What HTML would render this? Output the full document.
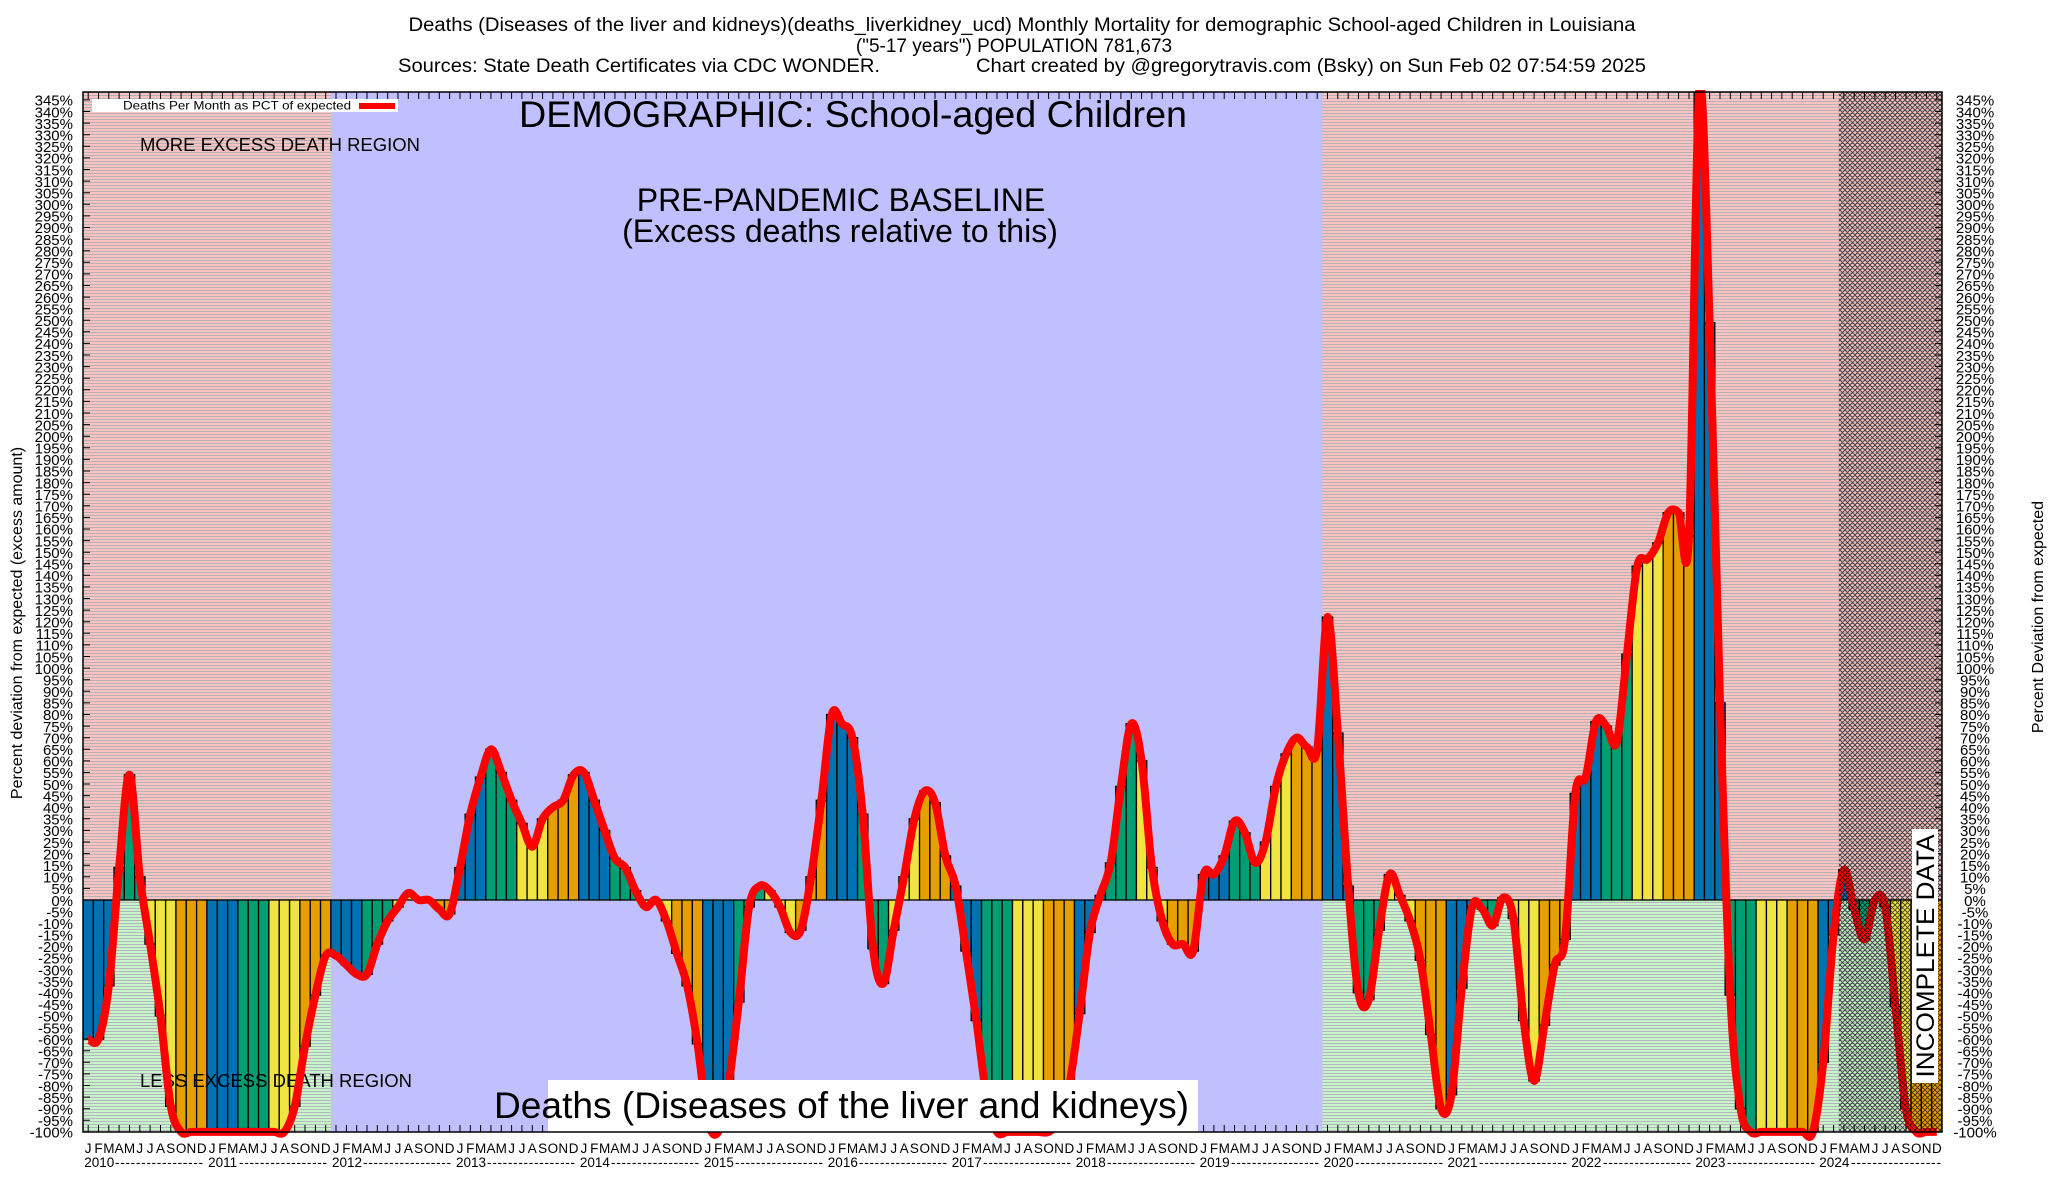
<!DOCTYPE html>
<html><head><meta charset="utf-8">
<style>
html,body{margin:0;padding:0;background:#fff;}
svg{display:block;}
text{font-family:"Liberation Sans",Arial,sans-serif;fill:#000;}
</style></head><body>
<svg id="c" xmlns="http://www.w3.org/2000/svg" width="2048" height="1200" viewBox="0 0 2048 1200">
<defs>
<pattern id="pk" patternUnits="userSpaceOnUse" width="8" height="3"><rect width="8" height="3" fill="#ffc2c2"/><rect y="2" width="8" height="1" fill="#b4b4b4"/></pattern>
<pattern id="gr" patternUnits="userSpaceOnUse" width="8" height="3"><rect width="8" height="3" fill="#c6f6c6"/><rect y="2" width="8" height="1" fill="#b6b4c2"/></pattern>
<pattern id="hx" patternUnits="userSpaceOnUse" width="5" height="5"><path d="M0,0L5,5M5,0L0,5M-1,4L1,6M4,-1L6,1M-1,1L1,-1M4,6L6,4" stroke="#000" stroke-width="0.9" opacity="0.72"/></pattern>
<clipPath id="pc"><rect x="83" y="92" width="1859" height="1040"/></clipPath>
<clipPath id="lc"><rect x="0" y="90" width="2048" height="1110"/></clipPath>
</defs>

<!-- titles -->
<text x="1022" y="31" font-size="19" text-anchor="middle" textLength="1227" lengthAdjust="spacingAndGlyphs">Deaths (Diseases of the liver and kidneys)(deaths_liverkidney_ucd) Monthly Mortality for demographic School-aged Children in Louisiana</text>
<text x="1014" y="52" font-size="19" text-anchor="middle">("5-17 years") POPULATION 781,673</text>
<text x="398" y="72" font-size="19" textLength="482" lengthAdjust="spacingAndGlyphs">Sources: State Death Certificates via CDC WONDER.</text>
<text x="976" y="72" font-size="19" textLength="670" lengthAdjust="spacingAndGlyphs">Chart created by @gregorytravis.com (Bsky) on Sun Feb 02 07:54:59 2025</text>

<!-- backgrounds -->
<rect x="83" y="92" width="248" height="808" fill="url(#pk)"/>
<rect x="83" y="900" width="248" height="232" fill="url(#gr)"/>
<rect x="331" y="92" width="991.5" height="1040" fill="#c0c0ff"/>
<rect x="1322.5" y="92" width="619.5" height="808" fill="url(#pk)"/>
<rect x="1322.5" y="900" width="619.5" height="232" fill="url(#gr)"/>

<path id="tk" fill="none" stroke="#000" stroke-width="1"/>
<g id="bars" clip-path="url(#pc)"></g>

<text x="140" y="151" font-size="18" textLength="280" lengthAdjust="spacingAndGlyphs">MORE EXCESS DEATH REGION</text>
<text x="140" y="1087" font-size="18" textLength="272" lengthAdjust="spacingAndGlyphs">LESS EXCESS DEATH REGION</text>

<path id="ln" clip-path="url(#lc)" fill="none" stroke="#ff0000" stroke-width="8" stroke-linejoin="round"/>

<rect x="1838.8" y="92" width="103.2" height="1040" fill="url(#hx)"/>

<text x="519" y="127" font-size="37" textLength="668" lengthAdjust="spacingAndGlyphs">DEMOGRAPHIC: School-aged Children</text>
<text x="841" y="211" font-size="32" text-anchor="middle">PRE-PANDEMIC BASELINE</text>
<text x="840" y="242" font-size="32" text-anchor="middle">(Excess deaths relative to this)</text>

<rect x="548" y="1080" width="650" height="52" fill="#fff"/>
<text x="494" y="1118" font-size="37" textLength="695" lengthAdjust="spacingAndGlyphs">Deaths (Diseases of the liver and kidneys)</text>

<rect x="1912" y="829" width="26" height="254" fill="#fff"/>
<text transform="translate(1934,956) rotate(-90)" font-size="25" text-anchor="middle" textLength="243" lengthAdjust="spacingAndGlyphs">INCOMPLETE DATA</text>

<!-- legend -->
<rect x="92" y="99" width="306" height="13" fill="#fff"/>
<text x="123" y="109.5" font-size="12" textLength="228" lengthAdjust="spacingAndGlyphs">Deaths Per Month as PCT of expected</text>
<line x1="359" y1="106" x2="395" y2="106" stroke="#ff0000" stroke-width="6"/>

<!-- border -->
<rect x="83" y="92" width="1859" height="1040" fill="none" stroke="#000" stroke-width="1.5"/>

<!-- axis titles -->
<text transform="translate(22,623) rotate(-90)" font-size="16" text-anchor="middle">Percent deviation from expected (excess amount)</text>
<text transform="translate(2043,617) rotate(-90)" font-size="16" text-anchor="middle">Percent Deviation from expected</text>

<!-- left tick labels -->
<text font-size="15" text-anchor="end"><tspan x="73" y="105.7">345%</tspan><tspan x="73" dy="11.595">340%</tspan><tspan x="73" dy="11.595">335%</tspan><tspan x="73" dy="11.595">330%</tspan><tspan x="73" dy="11.595">325%</tspan><tspan x="73" dy="11.595">320%</tspan><tspan x="73" dy="11.595">315%</tspan><tspan x="73" dy="11.595">310%</tspan><tspan x="73" dy="11.595">305%</tspan><tspan x="73" dy="11.595">300%</tspan><tspan x="73" dy="11.595">295%</tspan><tspan x="73" dy="11.595">290%</tspan><tspan x="73" dy="11.595">285%</tspan><tspan x="73" dy="11.595">280%</tspan><tspan x="73" dy="11.595">275%</tspan><tspan x="73" dy="11.595">270%</tspan><tspan x="73" dy="11.595">265%</tspan><tspan x="73" dy="11.595">260%</tspan><tspan x="73" dy="11.595">255%</tspan><tspan x="73" dy="11.595">250%</tspan><tspan x="73" dy="11.595">245%</tspan><tspan x="73" dy="11.595">240%</tspan><tspan x="73" dy="11.595">235%</tspan><tspan x="73" dy="11.595">230%</tspan><tspan x="73" dy="11.595">225%</tspan><tspan x="73" dy="11.595">220%</tspan><tspan x="73" dy="11.595">215%</tspan><tspan x="73" dy="11.595">210%</tspan><tspan x="73" dy="11.595">205%</tspan><tspan x="73" dy="11.595">200%</tspan><tspan x="73" dy="11.595">195%</tspan><tspan x="73" dy="11.595">190%</tspan><tspan x="73" dy="11.595">185%</tspan><tspan x="73" dy="11.595">180%</tspan><tspan x="73" dy="11.595">175%</tspan><tspan x="73" dy="11.595">170%</tspan><tspan x="73" dy="11.595">165%</tspan><tspan x="73" dy="11.595">160%</tspan><tspan x="73" dy="11.595">155%</tspan><tspan x="73" dy="11.595">150%</tspan><tspan x="73" dy="11.595">145%</tspan><tspan x="73" dy="11.595">140%</tspan><tspan x="73" dy="11.595">135%</tspan><tspan x="73" dy="11.595">130%</tspan><tspan x="73" dy="11.595">125%</tspan><tspan x="73" dy="11.595">120%</tspan><tspan x="73" dy="11.595">115%</tspan><tspan x="73" dy="11.595">110%</tspan><tspan x="73" dy="11.595">105%</tspan><tspan x="73" dy="11.595">100%</tspan><tspan x="73" dy="11.595">95%</tspan><tspan x="73" dy="11.595">90%</tspan><tspan x="73" dy="11.595">85%</tspan><tspan x="73" dy="11.595">80%</tspan><tspan x="73" dy="11.595">75%</tspan><tspan x="73" dy="11.595">70%</tspan><tspan x="73" dy="11.595">65%</tspan><tspan x="73" dy="11.595">60%</tspan><tspan x="73" dy="11.595">55%</tspan><tspan x="73" dy="11.595">50%</tspan><tspan x="73" dy="11.595">45%</tspan><tspan x="73" dy="11.595">40%</tspan><tspan x="73" dy="11.595">35%</tspan><tspan x="73" dy="11.595">30%</tspan><tspan x="73" dy="11.595">25%</tspan><tspan x="73" dy="11.595">20%</tspan><tspan x="73" dy="11.595">15%</tspan><tspan x="73" dy="11.595">10%</tspan><tspan x="73" dy="11.595">5%</tspan><tspan x="73" dy="11.595">0%</tspan><tspan x="73" dy="11.595">-5%</tspan><tspan x="73" dy="11.595">-10%</tspan><tspan x="73" dy="11.595">-15%</tspan><tspan x="73" dy="11.595">-20%</tspan><tspan x="73" dy="11.595">-25%</tspan><tspan x="73" dy="11.595">-30%</tspan><tspan x="73" dy="11.595">-35%</tspan><tspan x="73" dy="11.595">-40%</tspan><tspan x="73" dy="11.595">-45%</tspan><tspan x="73" dy="11.595">-50%</tspan><tspan x="73" dy="11.595">-55%</tspan><tspan x="73" dy="11.595">-60%</tspan><tspan x="73" dy="11.595">-65%</tspan><tspan x="73" dy="11.595">-70%</tspan><tspan x="73" dy="11.595">-75%</tspan><tspan x="73" dy="11.595">-80%</tspan><tspan x="73" dy="11.595">-85%</tspan><tspan x="73" dy="11.595">-90%</tspan><tspan x="73" dy="11.595">-95%</tspan><tspan x="73" dy="11.595">-100%</tspan></text>

<!-- right tick labels -->
<text font-size="15" text-anchor="middle"><tspan x="1975" y="105.7">345%</tspan><tspan x="1975" dy="11.595">340%</tspan><tspan x="1975" dy="11.595">335%</tspan><tspan x="1975" dy="11.595">330%</tspan><tspan x="1975" dy="11.595">325%</tspan><tspan x="1975" dy="11.595">320%</tspan><tspan x="1975" dy="11.595">315%</tspan><tspan x="1975" dy="11.595">310%</tspan><tspan x="1975" dy="11.595">305%</tspan><tspan x="1975" dy="11.595">300%</tspan><tspan x="1975" dy="11.595">295%</tspan><tspan x="1975" dy="11.595">290%</tspan><tspan x="1975" dy="11.595">285%</tspan><tspan x="1975" dy="11.595">280%</tspan><tspan x="1975" dy="11.595">275%</tspan><tspan x="1975" dy="11.595">270%</tspan><tspan x="1975" dy="11.595">265%</tspan><tspan x="1975" dy="11.595">260%</tspan><tspan x="1975" dy="11.595">255%</tspan><tspan x="1975" dy="11.595">250%</tspan><tspan x="1975" dy="11.595">245%</tspan><tspan x="1975" dy="11.595">240%</tspan><tspan x="1975" dy="11.595">235%</tspan><tspan x="1975" dy="11.595">230%</tspan><tspan x="1975" dy="11.595">225%</tspan><tspan x="1975" dy="11.595">220%</tspan><tspan x="1975" dy="11.595">215%</tspan><tspan x="1975" dy="11.595">210%</tspan><tspan x="1975" dy="11.595">205%</tspan><tspan x="1975" dy="11.595">200%</tspan><tspan x="1975" dy="11.595">195%</tspan><tspan x="1975" dy="11.595">190%</tspan><tspan x="1975" dy="11.595">185%</tspan><tspan x="1975" dy="11.595">180%</tspan><tspan x="1975" dy="11.595">175%</tspan><tspan x="1975" dy="11.595">170%</tspan><tspan x="1975" dy="11.595">165%</tspan><tspan x="1975" dy="11.595">160%</tspan><tspan x="1975" dy="11.595">155%</tspan><tspan x="1975" dy="11.595">150%</tspan><tspan x="1975" dy="11.595">145%</tspan><tspan x="1975" dy="11.595">140%</tspan><tspan x="1975" dy="11.595">135%</tspan><tspan x="1975" dy="11.595">130%</tspan><tspan x="1975" dy="11.595">125%</tspan><tspan x="1975" dy="11.595">120%</tspan><tspan x="1975" dy="11.595">115%</tspan><tspan x="1975" dy="11.595">110%</tspan><tspan x="1975" dy="11.595">105%</tspan><tspan x="1975" dy="11.595">100%</tspan><tspan x="1975" dy="11.595">95%</tspan><tspan x="1975" dy="11.595">90%</tspan><tspan x="1975" dy="11.595">85%</tspan><tspan x="1975" dy="11.595">80%</tspan><tspan x="1975" dy="11.595">75%</tspan><tspan x="1975" dy="11.595">70%</tspan><tspan x="1975" dy="11.595">65%</tspan><tspan x="1975" dy="11.595">60%</tspan><tspan x="1975" dy="11.595">55%</tspan><tspan x="1975" dy="11.595">50%</tspan><tspan x="1975" dy="11.595">45%</tspan><tspan x="1975" dy="11.595">40%</tspan><tspan x="1975" dy="11.595">35%</tspan><tspan x="1975" dy="11.595">30%</tspan><tspan x="1975" dy="11.595">25%</tspan><tspan x="1975" dy="11.595">20%</tspan><tspan x="1975" dy="11.595">15%</tspan><tspan x="1975" dy="11.595">10%</tspan><tspan x="1975" dy="11.595">5%</tspan><tspan x="1975" dy="11.595">0%</tspan><tspan x="1975" dy="11.595">-5%</tspan><tspan x="1975" dy="11.595">-10%</tspan><tspan x="1975" dy="11.595">-15%</tspan><tspan x="1975" dy="11.595">-20%</tspan><tspan x="1975" dy="11.595">-25%</tspan><tspan x="1975" dy="11.595">-30%</tspan><tspan x="1975" dy="11.595">-35%</tspan><tspan x="1975" dy="11.595">-40%</tspan><tspan x="1975" dy="11.595">-45%</tspan><tspan x="1975" dy="11.595">-50%</tspan><tspan x="1975" dy="11.595">-55%</tspan><tspan x="1975" dy="11.595">-60%</tspan><tspan x="1975" dy="11.595">-65%</tspan><tspan x="1975" dy="11.595">-70%</tspan><tspan x="1975" dy="11.595">-75%</tspan><tspan x="1975" dy="11.595">-80%</tspan><tspan x="1975" dy="11.595">-85%</tspan><tspan x="1975" dy="11.595">-90%</tspan><tspan x="1975" dy="11.595">-95%</tspan><tspan x="1975" dy="11.595">-100%</tspan></text>

<!-- month labels -->
<g font-size="13.5" text-anchor="middle">
<text transform="translate(88.16,1153)" x="0 10.33 20.66 30.98 41.31 51.64 61.97 72.30 82.62 92.95 103.28 113.61">JFMAMJJASOND</text>
<text transform="translate(212.10,1153)" x="0 10.33 20.66 30.98 41.31 51.64 61.97 72.30 82.62 92.95 103.28 113.61">JFMAMJJASOND</text>
<text transform="translate(336.04,1153)" x="0 10.33 20.66 30.98 41.31 51.64 61.97 72.30 82.62 92.95 103.28 113.61">JFMAMJJASOND</text>
<text transform="translate(459.98,1153)" x="0 10.33 20.66 30.98 41.31 51.64 61.97 72.30 82.62 92.95 103.28 113.61">JFMAMJJASOND</text>
<text transform="translate(583.92,1153)" x="0 10.33 20.66 30.98 41.31 51.64 61.97 72.30 82.62 92.95 103.28 113.61">JFMAMJJASOND</text>
<text transform="translate(707.86,1153)" x="0 10.33 20.66 30.98 41.31 51.64 61.97 72.30 82.62 92.95 103.28 113.61">JFMAMJJASOND</text>
<text transform="translate(831.80,1153)" x="0 10.33 20.66 30.98 41.31 51.64 61.97 72.30 82.62 92.95 103.28 113.61">JFMAMJJASOND</text>
<text transform="translate(955.74,1153)" x="0 10.33 20.66 30.98 41.31 51.64 61.97 72.30 82.62 92.95 103.28 113.61">JFMAMJJASOND</text>
<text transform="translate(1079.68,1153)" x="0 10.33 20.66 30.98 41.31 51.64 61.97 72.30 82.62 92.95 103.28 113.61">JFMAMJJASOND</text>
<text transform="translate(1203.62,1153)" x="0 10.33 20.66 30.98 41.31 51.64 61.97 72.30 82.62 92.95 103.28 113.61">JFMAMJJASOND</text>
<text transform="translate(1327.56,1153)" x="0 10.33 20.66 30.98 41.31 51.64 61.97 72.30 82.62 92.95 103.28 113.61">JFMAMJJASOND</text>
<text transform="translate(1451.50,1153)" x="0 10.33 20.66 30.98 41.31 51.64 61.97 72.30 82.62 92.95 103.28 113.61">JFMAMJJASOND</text>
<text transform="translate(1575.44,1153)" x="0 10.33 20.66 30.98 41.31 51.64 61.97 72.30 82.62 92.95 103.28 113.61">JFMAMJJASOND</text>
<text transform="translate(1699.38,1153)" x="0 10.33 20.66 30.98 41.31 51.64 61.97 72.30 82.62 92.95 103.28 113.61">JFMAMJJASOND</text>
<text transform="translate(1823.32,1153)" x="0 10.33 20.66 30.98 41.31 51.64 61.97 72.30 82.62 92.95 103.28 113.61">JFMAMJJASOND</text>
</g>

<!-- year labels -->
<g font-size="13.5">
<text x="84.2" y="1167">2010</text><text x="115" y="1167" textLength="88" lengthAdjust="spacing">-----------------</text>
<text x="208.1" y="1167">2011</text><text x="239" y="1167" textLength="88" lengthAdjust="spacing">-----------------</text>
<text x="332.0" y="1167">2012</text><text x="363" y="1167" textLength="88" lengthAdjust="spacing">-----------------</text>
<text x="456.0" y="1167">2013</text><text x="487" y="1167" textLength="88" lengthAdjust="spacing">-----------------</text>
<text x="579.9" y="1167">2014</text><text x="611" y="1167" textLength="88" lengthAdjust="spacing">-----------------</text>
<text x="703.9" y="1167">2015</text><text x="735" y="1167" textLength="88" lengthAdjust="spacing">-----------------</text>
<text x="827.8" y="1167">2016</text><text x="859" y="1167" textLength="88" lengthAdjust="spacing">-----------------</text>
<text x="951.7" y="1167">2017</text><text x="983" y="1167" textLength="88" lengthAdjust="spacing">-----------------</text>
<text x="1075.7" y="1167">2018</text><text x="1107" y="1167" textLength="88" lengthAdjust="spacing">-----------------</text>
<text x="1199.6" y="1167">2019</text><text x="1231" y="1167" textLength="88" lengthAdjust="spacing">-----------------</text>
<text x="1323.6" y="1167">2020</text><text x="1355" y="1167" textLength="88" lengthAdjust="spacing">-----------------</text>
<text x="1447.5" y="1167">2021</text><text x="1479" y="1167" textLength="88" lengthAdjust="spacing">-----------------</text>
<text x="1571.4" y="1167">2022</text><text x="1603" y="1167" textLength="88" lengthAdjust="spacing">-----------------</text>
<text x="1695.4" y="1167">2023</text><text x="1727" y="1167" textLength="88" lengthAdjust="spacing">-----------------</text>
<text x="1819.3" y="1167">2024</text><text x="1851" y="1167" textLength="90" lengthAdjust="spacing">-----------------</text>
</g>
</svg>
<script>
(function(){
var V=[-60,-60,-37,14,54,10,-19,-50,-89,-100,-100,-100,
-100,-100,-100,-100,-100,-100,-100,-100,-89,-63,-41,-24,
-24,-28,-32,-32,-19,-9,-3,3,0,0,-4,-6,
14,37,53,65,55,43,33,23,35,40,43,54,
55,43,30,18,14,4,-3,0,-9,-23,-37,-62,
-95,-100,-80,-44,-3,6,4,-3,-14,-13,10,43,
80,76,70,37,-21,-36,-13,10,35,47,42,19,
6,-22,-52,-85,-100,-100,-100,-100,-100,-100,-95,-80,
-49,-14,2,16,49,76,60,14,-9,-19,-19,-22,
11,11,19,34,29,16,25,49,63,70,66,65,
122,72,6,-40,-43,-13,11,2,-9,-26,-58,-90,
-84,-38,-3,-4,-11,1,-8,-52,-78,-54,-28,-17,
46,53,77,75,68,106,144,147,154,167,167,157,
350,249,85,-41,-90,-100,-100,-100,-100,-100,-100,-100,
-70,-15,13,-4,-17,0,-3,-46,-90,-100,-100,-100];
var NS="http://www.w3.org/2000/svg";
var X0=83,W=1859/180,Z=900,K=2.319,N=V.length,i;
function Y(v){return Z-v*K;}
var cols=["#0072b2","#009e73","#f0e442","#e69f00"];
var g=document.getElementById("bars");
for(i=0;i<N;i++){
 var v=Math.max(V[i],-100),y=Y(v),x=X0+W*i;
 var r=document.createElementNS(NS,"rect");
 r.setAttribute("x",x.toFixed(2));
 r.setAttribute("y",Math.min(y,Z).toFixed(2));
 r.setAttribute("width",W.toFixed(2));
 r.setAttribute("height",Math.max(Math.abs(y-Z),0.01).toFixed(2));
 r.setAttribute("fill",cols[Math.floor((i%12)/3)]);
 r.setAttribute("stroke","#000");
 r.setAttribute("stroke-width","1.3");
 g.appendChild(r);
}
var P=[];
for(i=0;i<N;i++)P.push([X0+W*(i+0.5),Y(V[i])]);
var d="M"+P[0][0].toFixed(1)+","+P[0][1].toFixed(1);
for(i=0;i<N-1;i++){
 var p0=P[Math.max(i-1,0)],p1=P[i],p2=P[i+1],p3=P[Math.min(i+2,N-1)];
 var c1x=p1[0]+(p2[0]-p0[0])/6,c1y=p1[1]+(p2[1]-p0[1])/6;
 var c2x=p2[0]-(p3[0]-p1[0])/6,c2y=p2[1]-(p3[1]-p1[1])/6;
 d+="C"+c1x.toFixed(1)+","+c1y.toFixed(1)+" "+c2x.toFixed(1)+","+c2y.toFixed(1)+" "+p2[0].toFixed(1)+","+p2[1].toFixed(1);
}
document.getElementById("ln").setAttribute("d",d);
var t="";
for(var q=-100;q<=345;q+=5){var yy=Y(q).toFixed(1);t+="M83,"+yy+"h7M1942,"+yy+"h-7";}
for(i=0;i<N;i++){var xx=(X0+W*(i+0.5)).toFixed(1);t+="M"+xx+",92v7M"+xx+",1132v-7";}
document.getElementById("tk").setAttribute("d",t);
})();
</script>
</body></html>
